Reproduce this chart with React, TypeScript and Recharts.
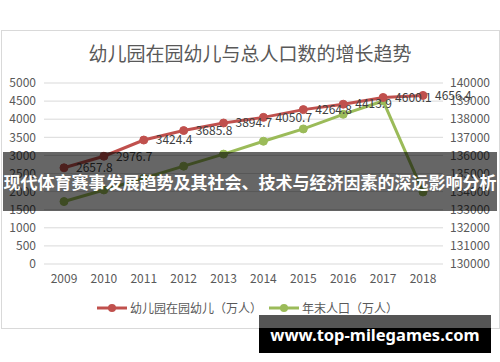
import { ComposedChart, Line, XAxis, YAxis, CartesianGrid, LabelList } from "recharts";

const years = ["2009", "2010", "2011", "2012", "2013", "2014", "2015", "2016", "2017", "2018"];
const kindergarten = [2657.8, 2976.7, 3424.4, 3685.8, 3894.7, 4050.7, 4264.8, 4413.9, 4600.1, 4656.4];
const population = [133450, 134091, 134735, 135404, 136072, 136782, 137462, 138271, 139008, 133980];
const leftTicks = [0, 500, 1000, 1500, 2000, 2500, 3000, 3500, 4000, 4500, 5000];
const rightTicks = [130000, 131000, 132000, 133000, 134000, 135000, 136000, 137000, 138000, 139000, 140000];

const RED = "#C0504D";
const GREEN = "#9BBB59";
const TEXT = "#595959";
const FONT = "'Noto Sans CJK SC', 'Noto Sans', sans-serif";

const data = years.map((y, i) => ({ year: y, kids: kindergarten[i], pop: population[i] }));

function LegendItem({ color, label }: { color: string; label: string }) {
  return (
    <div style={{ display: "flex", alignItems: "center", marginRight: 6 }}>
      <svg width={32} height={10}>
        <line x1={1} y1={5} x2={31} y2={5} stroke={color} strokeWidth={3} />
        <circle cx={16} cy={5} r={4} fill={color} />
      </svg>
      <span style={{ marginLeft: 2 }}>{label}</span>
    </div>
  );
}

export default function App() {
  return (
    <div style={{ position: "absolute", left: 0, top: 0, width: 500, height: 362, background: "#fff", fontFamily: FONT }}>
      <div style={{ position: "absolute", left: 1, top: 30, width: 497, height: 297, border: "1px solid #d9d9d9" }} />
      <div style={{ position: "absolute", left: 0, top: 39, width: 500, textAlign: "center", fontSize: 19, color: TEXT }}>
        幼儿园在园幼儿与总人口数的增长趋势
      </div>
      <div style={{ position: "absolute", left: 0, top: 0 }}>
        <ComposedChart width={500} height={362} data={data} margin={{ top: 83, right: 0, bottom: 68, left: 0 }}>
          <CartesianGrid vertical={false} stroke="#d9d9d9" yAxisId="left" />
          <XAxis dataKey="year" axisLine={false} tickLine={false} tickSize={0} tickMargin={10} height={30}
            padding={{ left: 20, right: 20 }} interval={0}
            tick={{ fill: TEXT, fontSize: 12, fontFamily: FONT }} />
          <YAxis yAxisId="left" domain={[0, 5000]} ticks={leftTicks} interval={0} width={44} axisLine={false} tickLine={false}
            tickSize={0} tickMargin={8} tick={{ fill: TEXT, fontSize: 12, fontFamily: FONT }} />
          <YAxis yAxisId="right" orientation="right" domain={[130000, 140000]} ticks={rightTicks} interval={0} width={57}
            axisLine={false} tickLine={false} tickSize={0} tickMargin={7} tick={{ fill: TEXT, fontSize: 12, fontFamily: FONT }} />
          <Line yAxisId="right" dataKey="pop" stroke={GREEN} strokeWidth={3} isAnimationActive={false}
            dot={{ r: 4, fill: GREEN, stroke: GREEN, strokeWidth: 1 }} />
          <Line yAxisId="left" dataKey="kids" stroke={RED} strokeWidth={3} isAnimationActive={false}
            dot={{ r: 4, fill: RED, stroke: RED, strokeWidth: 1 }}>
            <LabelList dataKey="kids" position="right" offset={12} fill="#404040" fontSize={12} fontFamily={FONT} />
          </Line>
        </ComposedChart>
      </div>
      <div style={{ position: "absolute", left: 0, top: 299, width: 500, display: "flex", justifyContent: "center", fontSize: 12, color: TEXT }}>
        <LegendItem color={RED} label="幼儿园在园幼儿（万人）" />
        <LegendItem color={GREEN} label="年末人口（万人）" />
      </div>
      <div style={{ position: "absolute", left: 3, top: 152, width: 494, height: 59, background: "rgba(0,0,0,0.6)",
        color: "#fff", fontWeight: 700, fontSize: 17, display: "flex", alignItems: "center", justifyContent: "center", whiteSpace: "nowrap" }}>
        现代体育赛事发展趋势及其社会、技术与经济因素的深远影响分析
      </div>
      <div style={{ position: "absolute", left: 259, top: 315, width: 232, height: 38, background: "#000" }}>
        <div style={{ position: "absolute", left: 0, top: 0, width: 232, height: 13, background: "#555" }} />
        <div style={{ position: "absolute", left: 0, top: 0, width: 232, height: 38, display: "flex", alignItems: "center",
          justifyContent: "center", color: "#fff", fontWeight: 700, fontSize: 16.5, fontFamily: "'Noto Sans', sans-serif" }}>
          www.top-milegames.com
        </div>
      </div>
    </div>
  );
}
